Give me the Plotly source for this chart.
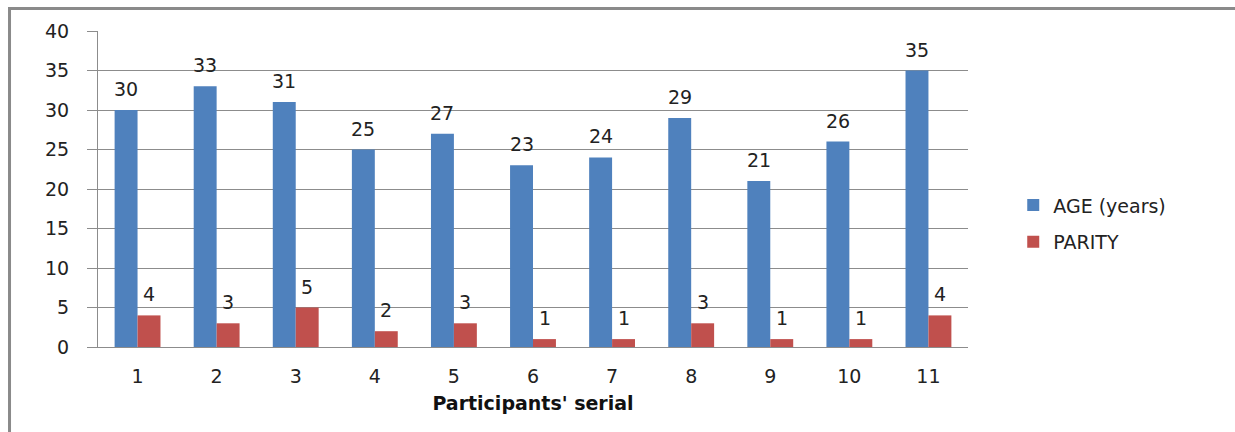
import plotly.graph_objects as go

categories = ["1", "2", "3", "4", "5", "6", "7", "8", "9", "10", "11"]
age = [30, 33, 31, 25, 27, 23, 24, 29, 21, 26, 35]
parity = [4, 3, 5, 2, 3, 1, 1, 3, 1, 1, 4]
y_ticks = [0, 5, 10, 15, 20, 25, 30, 35, 40]

BLUE = "#4F81BD"
RED = "#C0504D"
GRID = "#8C8C8C"
FONT = "DejaVu Sans"
FS = 19

fig = go.Figure()
fig.add_trace(go.Bar(x=categories, y=age, name="AGE (years)", legendgroup="a",
                     marker=dict(color=BLUE, line=dict(width=0))))
fig.add_trace(go.Bar(x=categories, y=parity, name="PARITY", legendgroup="b",
                     marker=dict(color=RED, line=dict(width=0))))

# data labels
for i, v in enumerate(age):
    fig.add_annotation(x=i, y=v, text=str(v), showarrow=False, xshift=-11.5, yshift=21,
                       font=dict(family=FONT, size=FS, color="#222"))
for i, v in enumerate(parity):
    fig.add_annotation(x=i, y=v, text=str(v), showarrow=False, xshift=11.5, yshift=21,
                       font=dict(family=FONT, size=FS, color="#222"))

# outer frame
fig.add_shape(type="rect", xref="paper", yref="paper", x0=-0.1017, x1=1.5, y0=-0.6, y1=1.071,
              line=dict(color="#8A8A8A", width=3), layer="above")

fig.update_layout(
    width=1235, height=432,
    margin=dict(l=98, r=267, t=31, b=85),
    paper_bgcolor="white", plot_bgcolor="white",
    barmode="group", bargap=0.42, bargroupgap=0,
    font=dict(family=FONT, size=FS, color="#222"),
    legend=dict(x=1.052, y=0.39, yanchor="middle", xanchor="left",
                font=dict(family=FONT, size=FS, color="#222"),
                traceorder="grouped", tracegroupgap=9),
    xaxis=dict(type="category", title=dict(text="<b>Participants' serial</b>",
                                           font=dict(family=FONT, size=FS, color="#111"), standoff=10),
               showline=True, linecolor=GRID, linewidth=1, ticks="", showgrid=False,
               ticklabelstandoff=12, tickfont=dict(size=FS)),
    yaxis=dict(range=[0, 40], tickvals=y_ticks, showgrid=True, gridcolor=GRID, gridwidth=1,
               showline=True, linecolor=GRID, linewidth=1, ticks="outside", ticklen=10,
               tickcolor=GRID, ticklabelstandoff=14, zeroline=False, tickfont=dict(size=FS)),
)

fig.write_html("out.html")
